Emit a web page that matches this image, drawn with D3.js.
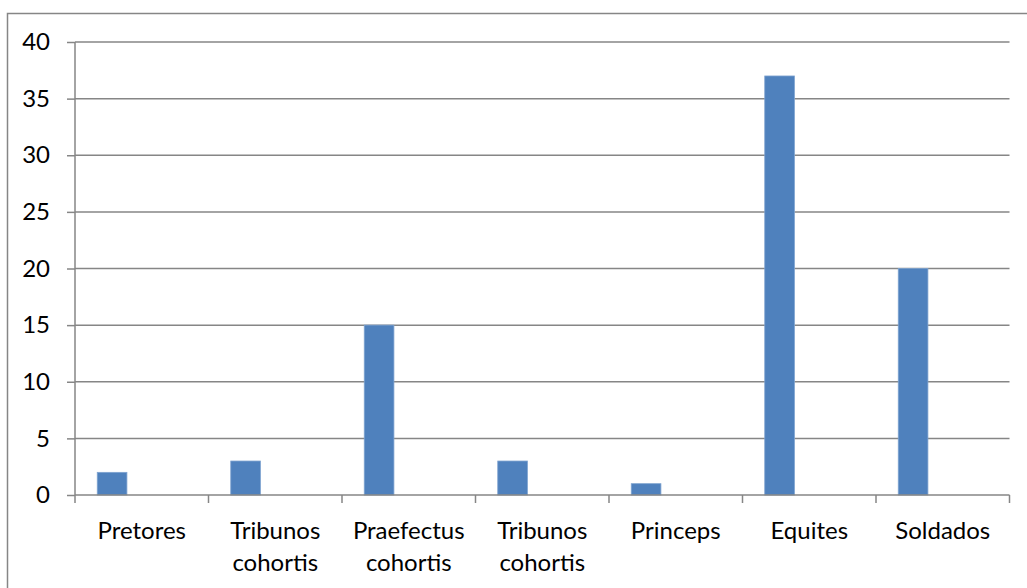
<!DOCTYPE html>
<html><head><meta charset="utf-8">
<script src="https://cdn.jsdelivr.net/npm/d3@7"></script>
<style>body{margin:0;background:#fff}svg{display:block}</style>
</head><body><svg id="c" width="1027" height="588"></svg>
<script>
const categories = [["Pretores"],["Tribunos","cohortis"],["Praefectus","cohortis"],["Tribunos","cohortis"],["Princeps"],["Equites"],["Soldados"]];
const values = [2,3,15,3,1,37,20];
const yTicks = [0,5,10,15,20,25,30,35,40];

const FONT = "Lato, 'Open Sans', sans-serif";
const FS = 24;
const svg = d3.select("#c");
const L=75, R=1009.5, T=42, B=495;
const x = d3.scaleBand().domain(d3.range(categories.length)).range([L,R]).padding(0);
const y = d3.scaleLinear().domain([0,40]).range([B,T]);
const bw = x.bandwidth()/4.5;

// outer frame (left + top visible)
svg.append("path").attr("d","M7.5,588 V13.5 H1027").attr("fill","none").attr("stroke","#868686").attr("stroke-width",1.5);

// gridlines
svg.append("g").selectAll("line").data(yTicks.filter(d=>d>0)).join("line")
 .attr("x1",L).attr("x2",R).attr("y1",d=>y(d)).attr("y2",d=>y(d))
 .attr("stroke","#868686").attr("stroke-width",1.5);

// bars
svg.append("g").selectAll("rect").data(values).join("rect")
 .attr("x",(d,i)=>x(i)+0.75*bw).attr("width",bw)
 .attr("y",d=>y(d)).attr("height",d=>B-y(d))
 .attr("fill","#4F81BD").attr("stroke","#7EA3D0").attr("stroke-width",0.8);

// y axis
const ya = svg.append("g").attr("transform",`translate(${L},0)`)
 .call(d3.axisLeft(y).tickValues(yTicks).tickSize(8).tickPadding(17));
ya.attr("font-family",FONT).attr("font-size",FS);
ya.select(".domain").attr("stroke","#868686").attr("stroke-width",1.5).attr("d",`M0,${T}V${B}`);
ya.selectAll(".tick line").attr("stroke","#868686").attr("stroke-width",1.5);
ya.selectAll(".tick text").attr("fill","#000");

// x axis
const xa = svg.append("g").attr("transform",`translate(0,${B})`).attr("font-family",FONT).attr("font-size",FS);
xa.append("line").attr("x1",L).attr("x2",R).attr("stroke","#868686").attr("stroke-width",1.5);
xa.selectAll("line.t").data(d3.range(categories.length+1)).join("line").attr("class","t")
 .attr("x1",i=>L+i*x.bandwidth()).attr("x2",i=>L+i*x.bandwidth()).attr("y1",0).attr("y2",8)
 .attr("stroke","#868686").attr("stroke-width",1.5);
const lab = xa.selectAll("text").data(categories).join("text")
 .attr("text-anchor","middle").attr("fill","#000")
 .attr("transform",(d,i)=>`translate(${x(i)+x.bandwidth()/2},0)`);
lab.selectAll("tspan").data(d=>d).join("tspan").attr("x",0).attr("y",(d,j)=>44+j*32).text(d=>d);
</script></body></html>
